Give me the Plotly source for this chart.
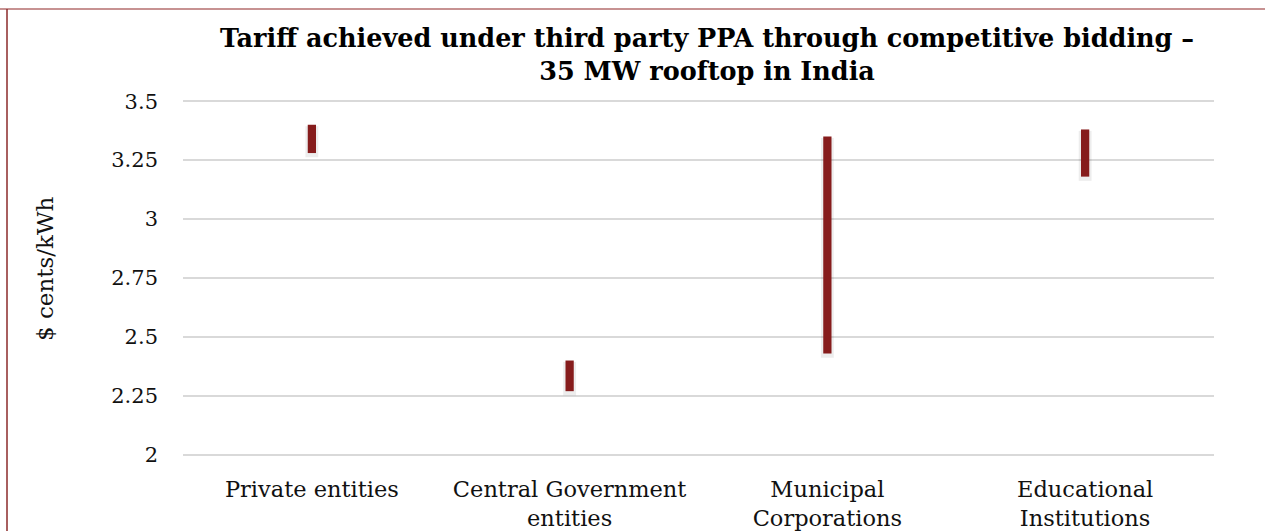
import plotly.graph_objects as go

categories = ["Private entities", "Central Government<br>entities", "Municipal<br>Corporations", "Educational<br>Institutions"]
tariff_low = [3.28, 2.27, 2.43, 3.18]
tariff_high = [3.40, 2.40, 3.35, 3.38]
y_ticks = [2, 2.25, 2.5, 2.75, 3, 3.25, 3.5]
y_tick_text = ["2", "2.25", "2.5", "2.75", "3", "3.25", "3.5"]

spans = [h - l for h, l in zip(tariff_high, tariff_low)]

L, R, T, B = 183, 51, 100, 75
W, H = 1265, 531
pw, ph = W - L - R, H - T - B

def px_x(x):
    return (x - L) / pw

def px_y(y):
    return 1 + (T - y) / ph

serif = "'DejaVu Serif', Georgia, serif"

fig = go.Figure()
# soft shadow
fig.add_trace(go.Bar(
    x=categories, y=[s + 0.012 for s in spans], base=[l - 0.018 for l in tariff_low], width=0.05,
    marker=dict(color="rgba(0,0,0,0.07)", line=dict(width=0)),
    hoverinfo="skip",
))
fig.add_trace(go.Bar(
    x=categories, y=spans, base=tariff_low, width=0.032,
    marker=dict(color="#861c1c", line=dict(width=0)),
    hoverinfo="skip",
))

fig.update_layout(
    width=W, height=H,
    barmode="overlay",
    margin=dict(l=L, r=R, t=T, b=B, pad=0, autoexpand=False),
    paper_bgcolor="white", plot_bgcolor="white",
    showlegend=False,
    font=dict(family=serif, color="#111111", size=20),
    xaxis=dict(showgrid=False, showline=False, ticks="", tickfont=dict(size=22.5, color="#111111"),
               zeroline=False, ticklabelstandoff=17, automargin=False),
    yaxis=dict(
        range=[1.995, 3.505], tickvals=y_ticks, ticktext=y_tick_text,
        showgrid=True, gridcolor="#d9d9d9", gridwidth=2, zeroline=False,
        showline=False, ticks="", ticklabelstandoff=24, automargin=False,
        tickfont=dict(size=21, color="#111111"),
    ),
    annotations=[
        dict(text="<b>Tariff achieved under third party PPA through competitive bidding –<br>35 MW rooftop in India</b>",
             xref="paper", yref="paper", x=px_x(707), y=px_y(21), xanchor="center", yanchor="top",
             showarrow=False, font=dict(family=serif, size=25.5, color="#000000")),
        dict(text="$ cents/kWh", textangle=-90,
             xref="paper", yref="paper", x=px_x(45), y=px_y(269), xanchor="center", yanchor="middle",
             showarrow=False, font=dict(family=serif, size=23, color="#111111")),
    ],
    shapes=[
        dict(type="line", xref="paper", yref="paper",
             x0=-L / pw, x1=(W - L) / pw, y0=px_y(9), y1=px_y(9),
             line=dict(color="#b56e6e", width=1.5)),
        dict(type="line", xref="paper", yref="paper",
             x0=px_x(7), x1=px_x(7), y0=px_y(9), y1=px_y(535),
             line=dict(color="#8b2a2a", width=1.5)),
    ],
)

fig.write_html("out.html")
